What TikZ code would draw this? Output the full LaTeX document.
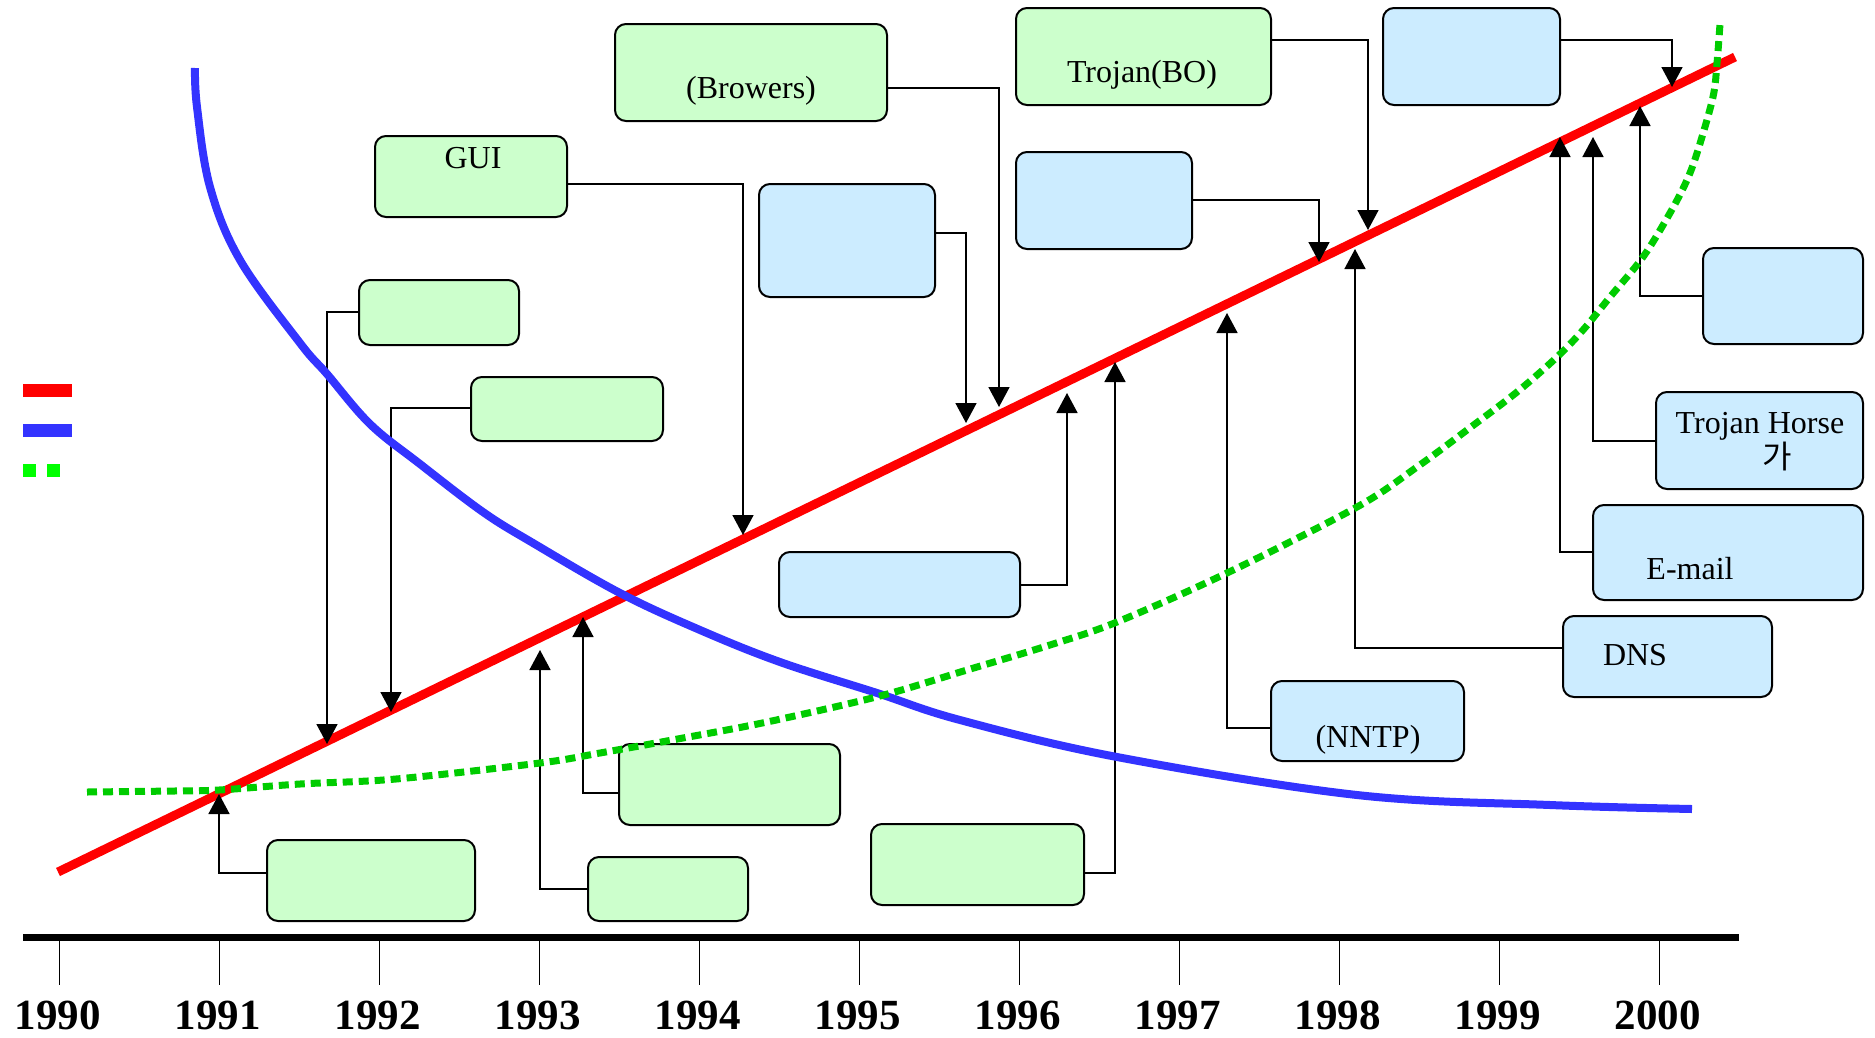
\documentclass[tikz,border=0pt]{standalone}
\usepackage{fontspec}
\setmainfont{Liberation Serif}
\newfontfamily\krfont{Noto Sans CJK KR}
\usetikzlibrary{arrows.meta,fit}
\definecolor{boxgreen}{HTML}{CCFFCC}
\definecolor{boxblue}{HTML}{CCECFF}
\definecolor{trendred}{HTML}{FF0000}
\definecolor{trendblue}{HTML}{3333FF}
\definecolor{trendgreen}{HTML}{00CC00}
\definecolor{legendgreen}{HTML}{00FF00}

\begin{document}
\begin{tikzpicture}[x=1pt,y=-1pt,
  box/.style={draw=black, line width=2pt, rounded corners=11pt, inner sep=0pt, outer sep=0pt},
  gbox/.style={box, fill=boxgreen},
  bbox/.style={box, fill=boxblue},
  lbl/.style={anchor=base, inner sep=0pt, font=\fontsize{32}{38}\selectfont},
  yr/.style={anchor=base, inner sep=0pt, font=\bfseries\fontsize{43}{50}\selectfont},
  conn/.style={line width=1.6pt, -{Triangle[width=21pt,length=20pt]}},
  tick/.style={line width=1.6pt},
]
\useasboundingbox (0,0) rectangle (1875,1037);

% ---- event boxes ----
\node[gbox, fit={(375,136) (567,217)}] (gui) {};
\node[gbox, fit={(615,24) (887,121)}] (brow) {};
\node[gbox, fit={(359,280) (519,345)}] (ga) {};
\node[gbox, fit={(471,377) (663,441)}] (gb) {};
\node[bbox, fit={(759,184) (935,297)}] (bm1) {};
\node[gbox, fit={(1016,8) (1271,105)}] (troj) {};
\node[bbox, fit={(1383,8) (1560,105)}] (btop) {};
\node[bbox, fit={(1016,152) (1192,249)}] (bm2) {};
\node[bbox, fit={(1703,248) (1863,344)}] (bright) {};
\node[bbox, fit={(1656,392) (1863,489)}] (bth) {};
\node[bbox, fit={(1593,505) (1863,600)}] (bmail) {};
\node[bbox, fit={(1563,616) (1772,697)}] (bdns) {};
\node[bbox, fit={(1271,681) (1464,761)}] (bnntp) {};
\node[bbox, fit={(779,552) (1020,617)}] (bleft) {};
\node[gbox, fit={(871,824) (1084,905)}] (gc) {};
\node[gbox, fit={(619,744) (840,825)}] (gd) {};
\node[gbox, fit={(588,857) (748,921)}] (ge) {};
\node[gbox, fit={(267,840) (475,921)}] (gf) {};

% ---- box texts ----
\node[lbl] (gui-t) at (473,168) {GUI};
\node[lbl] (brow-t) at (751,98) {(Browers)};
\node[lbl] (troj-t) at (1142,82) {Trojan(BO)};
\node[lbl] (bth-t) at (1760,433) {Trojan Horse};
\node[lbl] (bth-k) at (1777,468) {\krfont 가};
\node[lbl] (bmail-t) at (1690,579) {E-mail};
\node[lbl] (bdns-t) at (1635,665) {DNS};
\node[lbl] (bnntp-t) at (1368,747) {(NNTP)};

% ---- legend ----
\fill[trendred] (23,384) rectangle (72,397);
\fill[trendblue] (23,424) rectangle (72,437);
\fill[legendgreen] (23,464) rectangle (36,477);
\fill[legendgreen] (47,464) rectangle (60,477);

% ---- time axis ----
\draw[line width=7pt] (23,937.5) -- (1739,937.5);
\foreach \yy [count=\i from 0] in {1990,...,2000} {
  \draw[tick] (59.3+160*\i,941) -- (59.3+160*\i,985);
  \node[yr] (y\yy) at (57.5+160*\i,1029) {\yy};
}

% ---- growth line ----
\draw[trendred, line width=9pt] (58,872) -- (1735,57);

% ---- arrow tips on the growth line ----
\coordinate (t1) at (219,794);
\coordinate (t2) at (540,650);
\coordinate (t3) at (583,617);
\coordinate (t4) at (327,744);
\coordinate (t5) at (391,712);
\coordinate (t6) at (743,535);
\coordinate (t7) at (966,423);
\coordinate (t8) at (999,407);
\coordinate (t9) at (1067,393);
\coordinate (t10) at (1115,362);
\coordinate (t11) at (1227,313);
\coordinate (t12) at (1319,262);
\coordinate (t13) at (1355,249);
\coordinate (t14) at (1368,230);
\coordinate (t15) at (1560,137);
\coordinate (t16) at (1593,137);
\coordinate (t17) at (1640,106);
\coordinate (t18) at (1672,87);

% ---- connectors ----
\draw[conn] (gf.west |- 0,873) -| (t1);
\draw[conn] (ge.west |- 0,889) -| (t2);
\draw[conn] (gd.west |- 0,793) -| (t3);
\draw[conn] (ga.west |- 0,312) -| (t4);
\draw[conn] (gb.west |- 0,408) -| (t5);
\draw[conn] (gui.east |- 0,184) -| (t6);
\draw[conn] (bm1.east |- 0,233) -| (t7);
\draw[conn] (brow.east |- 0,88) -| (t8);
\draw[conn] (bleft.east |- 0,585) -| (t9);
\draw[conn] (gc.east |- 0,873) -| (t10);
\draw[conn] (bnntp.west |- 0,728) -| (t11);
\draw[conn] (bm2.east |- 0,200) -| (t12);
\draw[conn] (bdns.west |- 0,648) -| (t13);
\draw[conn] (troj.east |- 0,40) -| (t14);
\draw[conn] (bmail.west |- 0,552) -| (t15);
\draw[conn] (bth.west |- 0,441) -| (t16);
\draw[conn] (bright.west |- 0,296) -| (t17);
\draw[conn] (btop.east |- 0,40) -| (t18);

% ---- falling curve ----
\draw[trendblue, line width=8pt] plot[smooth, tension=0.6] coordinates {
  (195,68) (197,107) (210,187) (240,260) (300,343) (327,374) (370,424)
  (420,464) (483,512) (533,543) (620,593) (700,630) (780,662) (877,693)
  (960,720) (1117,757) (1357,795) (1550,805) (1692,809)};

% ---- rising dotted curve ----
\draw[trendgreen, line width=7pt, dash pattern=on 10pt off 6pt] plot[smooth, tension=0.55] coordinates {
  (87,792) (174,791) (219,790) (300,784) (396,779) (540,763) (600,753)
  (683,738) (767,722) (880,696) (967,670) (1050,645) (1117,622) (1227,573)
  (1357,507) (1417,467) (1467,430) (1517,392) (1557,357) (1583,330)
  (1610,297) (1643,257) (1670,213) (1687,180) (1698,150)
  (1713,97) (1717,63) (1720,24)};
\end{tikzpicture}
\end{document}
